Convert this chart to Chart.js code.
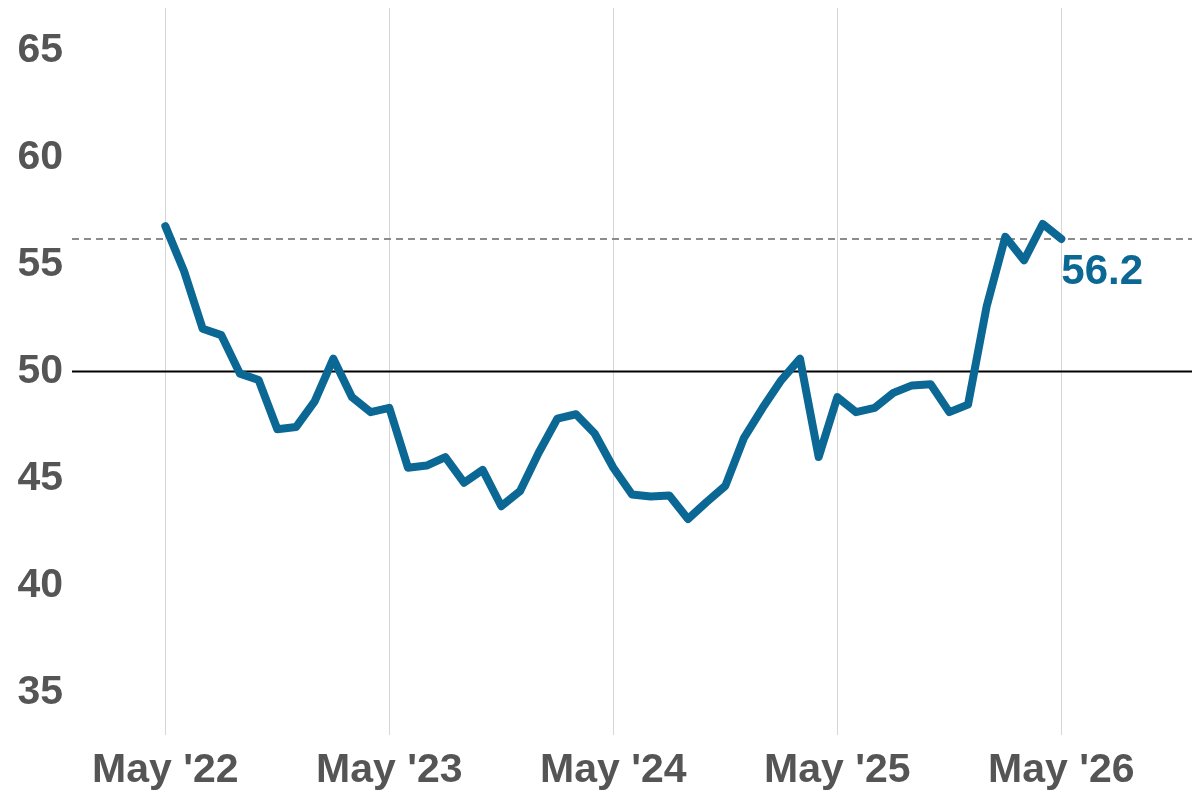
<!DOCTYPE html>
<html>
<head>
<meta charset="utf-8">
<script src="https://cdn.jsdelivr.net/npm/chart.js@4"></script>
<style>
html,body{margin:0;padding:0;background:#fff;}
#wrap{width:1200px;height:800px;}
</style>
</head>
<body>
<div id="wrap"><canvas id="c" width="1200" height="800"></canvas></div>
<script>
// Monthly values, May 2022 .. May 2026 (month index 0..48)
const monthIndex = [0,1,2,3,4,5,6,7,8,9,10,11,12,13,14,15,16,17,18,19,20,21,22,23,24,25,26,27,28,29,30,31,32,33,34,35,36,37,38,39,40,41,42,43,44,45,46,47,48];
const values = [56.8,54.7,52.0,51.7,49.9,49.6,47.3,47.4,48.6,50.6,48.8,48.1,48.3,45.5,45.6,46.0,44.8,45.4,43.7,44.4,46.2,47.8,48.0,47.1,45.5,44.25,44.15,44.2,43.1,43.9,44.65,46.9,48.3,49.6,50.6,46.0,48.8,48.1,48.3,49.0,49.35,49.4,48.1,48.45,53.05,56.3,55.2,56.9,56.2];
const xTickPositions = [0,12,24,36,48];
const xTickLabels = ["May '22","May '23","May '24","May '25","May '26"];
const yTickValues = [35,40,45,50,55,60,65];
const referenceLevel = 50;
const lastLabel = "56.2";

const lineColor = '#0b6794';
const textGray = '#555555';
const fontFamily = '"Liberation Sans", Arial, Helvetica, sans-serif';

const overlay = {
  id: 'overlay',
  beforeDatasetsDraw(chart) {
    const {ctx, chartArea, scales} = chart;
    const y50 = scales.y.getPixelForValue(referenceLevel);
    const yLast = scales.y.getPixelForValue(values[values.length-1]);
    ctx.save();
    ctx.strokeStyle = '#000';
    ctx.lineWidth = 2;
    ctx.beginPath();
    ctx.moveTo(chartArea.left, y50);
    ctx.lineTo(chartArea.right, y50);
    ctx.stroke();
    ctx.strokeStyle = '#8c8c8c';
    ctx.lineWidth = 2;
    ctx.setLineDash([7,5]);
    ctx.beginPath();
    ctx.moveTo(chartArea.left, yLast);
    ctx.lineTo(chartArea.right, yLast);
    ctx.stroke();
    ctx.restore();
  },
  afterDatasetsDraw(chart) {
    const {ctx, scales} = chart;
    const xi = monthIndex[monthIndex.length-1];
    const x = scales.x.getPixelForValue(xi);
    const y = scales.y.getPixelForValue(values[values.length-1]);
    ctx.save();
    ctx.fillStyle = lineColor;
    ctx.font = 'bold 42px ' + fontFamily;
    ctx.textAlign = 'left';
    ctx.textBaseline = 'middle';
    ctx.fillText(lastLabel, x + 0, y + 33);
    ctx.restore();
  }
};

new Chart(document.getElementById('c'), {
  type: 'line',
  data: {
    datasets: [{
      data: monthIndex.map((m,i)=>({x:m, y:values[i]})),
      borderColor: lineColor,
      borderWidth: 8,
      pointRadius: 0,
      borderJoinStyle: 'round',
      borderCapStyle: 'round',
      tension: 0
    }]
  },
  options: {
    responsive: false,
    animation: false,
    layout: {padding: {top: 8, right: 8, left: 0, bottom: 0}},
    plugins: {legend: {display: false}, tooltip: {enabled: false}},
    scales: {
      x: {
        type: 'linear',
        min: -5, max: 55,
        afterBuildTicks: s => { s.ticks = xTickPositions.map(v=>({value:v})); },
        afterFit: s => { s.height = 65; s.paddingLeft = 0; s.paddingRight = 0; },
        grid: {color: '#d6d6d6', lineWidth: 1, drawTicks: false},
        border: {display: false},
        ticks: {
          autoSkip: false, maxRotation: 0, padding: 11,
          color: textGray,
          font: {family: fontFamily, size: 41, weight: 'bold'},
          callback: v => { const k = xTickPositions.indexOf(v); return k >= 0 ? xTickLabels[k] : ''; }
        }
      },
      y: {
        min: 33, max: 67,
        afterBuildTicks: s => { s.ticks = yTickValues.map(v=>({value:v})); },
        afterFit: s => { s.width = 72; s.paddingTop = 0; s.paddingBottom = 0; },
        grid: {display: false, drawTicks: false},
        border: {display: false},
        ticks: {
          padding: 9,
          color: textGray,
          font: {family: fontFamily, size: 41, weight: 'bold'}
        }
      }
    }
  },
  plugins: [overlay]
});
</script>
</body>
</html>
